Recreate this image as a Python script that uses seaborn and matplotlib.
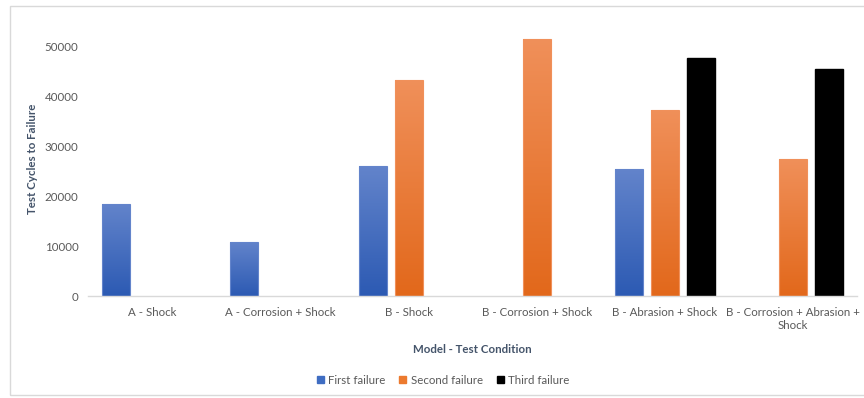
import numpy as np
import pandas as pd
import matplotlib
matplotlib.use("Agg")
import matplotlib.pyplot as plt
import seaborn as sns
from matplotlib.colors import LinearSegmentedColormap
from matplotlib.patches import Rectangle

conditions = ["A - Shock", "A - Corrosion + Shock", "B - Shock",
              "B - Corrosion + Shock", "B - Abrasion + Shock",
              "B - Corrosion + Abrasion +\nShock"]
failures = ["First failure", "Second failure", "Third failure"]
first_failure = [18400, 10900, 26000, np.nan, 25400, np.nan]
second_failure = [np.nan, np.nan, 43200, 51400, 37200, 27400]
third_failure = [np.nan, np.nan, np.nan, np.nan, 47600, 45400]
yticks = [0, 10000, 20000, 30000, 40000, 50000]

rows = []
for name, vals in zip(failures, [first_failure, second_failure, third_failure]):
    for cond, v in zip(conditions, vals):
        if not np.isnan(v):
            rows.append({"condition": cond, "failure": name, "cycles": v})
df = pd.DataFrame(rows)

sns.set_theme(style="white")
plt.rcParams["font.family"] = ["Lato", "DejaVu Sans"]
fs = 8.3

solid = {"First failure": "#3F6DC2", "Second failure": "#EC7A2E", "Third failure": "#000000"}
grad = {"First failure": ("#2C5AB3", "#6384CB"),
        "Second failure": ("#E2681B", "#F0905A")}

fig = plt.figure(figsize=(8.64, 3.98), dpi=100)
ax = fig.add_axes([0.102, 0.256, 0.890, 0.691])

sns.barplot(data=df, x="condition", y="cycles", hue="failure",
            order=conditions, hue_order=failures, palette=solid,
            width=0.84, gap=0.22, errorbar=None, ax=ax, legend=True)

# vertical gradient fill for the coloured bars
for container, name in zip(ax.containers, failures):
    for bar in container:
        if name in grad:
            x0, y0 = bar.get_x(), bar.get_y()
            w, h = bar.get_width(), bar.get_height()
            if not np.isfinite(h) or h == 0:
                continue
            cmap = LinearSegmentedColormap.from_list(name, list(grad[name]))
            img = ax.imshow(np.linspace(0, 1, 256).reshape(-1, 1),
                            extent=[x0, x0 + w, y0, y0 + h], origin="lower",
                            cmap=cmap, aspect="auto", zorder=bar.get_zorder())
            img.set_clip_path(bar)
            bar.set_facecolor("none")
            bar.set_edgecolor(grad[name][1])
            bar.set_linewidth(0.8)
            bar.set_zorder(bar.get_zorder() + 0.1)
        else:
            bar.set_edgecolor("#000000")

ax.set_xlim(-0.5, len(conditions) - 0.5)
ax.set_ylim(0, 55000)
ax.set_yticks(yticks)
ax.set_yticklabels([str(t) for t in yticks])
ax.tick_params(axis="both", colors="#595959", labelsize=fs, length=0, pad=7)
ax.tick_params(axis="x", pad=8)

for side in ["top", "right", "left"]:
    ax.spines[side].set_visible(False)
ax.spines["bottom"].set_color("#D9D9D9")
ax.spines["bottom"].set_linewidth(1.0)

ax.set_xlabel("Model - Test Condition", fontsize=fs, fontweight="bold",
              color="#44546A", labelpad=9)
ax.set_ylabel("Test Cycles to Failure", fontsize=fs, fontweight="bold",
              color="#44546A", labelpad=5)

handles = [Rectangle((0, 0), 1, 1, color=solid[f]) for f in failures]
if ax.get_legend() is not None:
    ax.get_legend().remove()
fig.legend(handles, failures, loc="center", bbox_to_anchor=(0.513, 0.045),
           ncol=3, frameon=False, fontsize=fs, labelcolor="#595959",
           handlelength=0.6, handleheight=0.6, handletextpad=0.4,
           columnspacing=1.2)

# light outline of the chart area
fig.patches.append(Rectangle((0.012, 0.008), 1.2, 0.977, transform=fig.transFigure,
                             fill=False, edgecolor="#D9D9D9", linewidth=1.0))

fig.savefig("out.png", dpi=100)
